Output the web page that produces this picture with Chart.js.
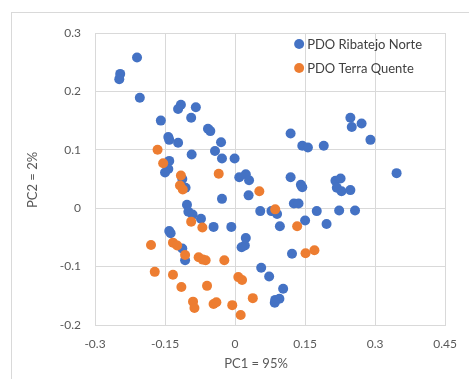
<!DOCTYPE html>
<html>
<head>
<meta charset="utf-8">
<script src="https://cdn.jsdelivr.net/npm/chart.js@4/dist/chart.umd.min.js"></script>
<style>
  html, body { margin: 0; padding: 0; background: #ffffff; }
  #wrap { position: relative; width: 469px; height: 379px; overflow: hidden; }
  #frame { position: absolute; left: 11px; top: 12px; width: 480px; height: 400px;
           border-left: 1px solid #d9d9d9; border-top: 1px solid #d9d9d9; }
  canvas { position: absolute; left: 0; top: 0; }
</style>
</head>
<body>
<div id="wrap">
  <div id="frame"></div>
  <canvas id="c" width="469" height="379"></canvas>
</div>
<script>
const seriesNames = ["PDO Ribatejo Norte", "PDO Terra Quente"];
const seriesColors = ["#4472C4", "#ED7D31"];

const ribatejoX = [-0.210,-0.246,-0.248,-0.204,-0.159,-0.116,-0.122,-0.084,-0.094,-0.058,
  -0.053,-0.143,-0.141,-0.122,-0.030,-0.043,-0.093,-0.028,-0.001,-0.141,
  -0.143,-0.150,0.009,0.023,0.030,-0.113,-0.106,-0.028,0.029,-0.103,
  -0.100,-0.091,-0.073,-0.046,-0.008,-0.141,-0.138,-0.113,-0.107,0.023,
  0.021,0.014,0.054,0.078,0.090,0.119,0.141,0.144,0.215,0.226,
  0.218,0.228,0.247,0.346,0.119,0.144,0.156,0.190,0.247,0.250,
  0.271,0.290,0.096,0.126,0.136,0.175,0.223,0.257,0.150,0.196,
  0.122,0.056,0.073,0.103,0.086,0.095,0.085];
const ribatejoY = [0.258,0.230,0.221,0.189,0.150,0.177,0.170,0.173,0.155,0.136,
  0.132,0.122,0.117,0.112,0.113,0.098,0.092,0.085,0.085,0.081,
  0.067,0.061,0.053,0.058,0.048,0.050,0.035,0.016,0.022,0.006,
  -0.006,-0.011,-0.018,-0.032,-0.032,-0.039,-0.043,-0.069,-0.089,-0.051,
  -0.064,-0.067,-0.005,-0.005,-0.010,0.053,0.040,0.036,0.047,0.051,
  0.035,0.029,0.031,0.060,0.128,0.107,0.104,0.107,0.155,0.139,
  0.145,0.117,-0.031,0.008,0.008,-0.005,-0.004,-0.004,-0.021,-0.027,
  -0.078,-0.102,-0.117,-0.138,-0.157,-0.155,-0.162];

const terraX = [-0.166,-0.154,-0.116,-0.035,-0.118,-0.112,0.052,0.086,0.133,0.151,
  0.170,-0.094,-0.070,-0.180,-0.133,-0.124,-0.107,-0.078,-0.069,-0.063,
  -0.023,0.007,0.015,0.038,-0.006,0.012,-0.172,-0.133,-0.115,-0.060,
  -0.090,-0.087,-0.046,-0.040];
const terraY = [0.100,0.077,0.056,0.059,0.039,0.032,0.029,-0.002,-0.031,-0.077,
  -0.072,-0.023,-0.033,-0.063,-0.059,-0.064,-0.080,-0.084,-0.088,-0.089,
  -0.089,-0.118,-0.123,-0.154,-0.166,-0.183,-0.109,-0.114,-0.135,-0.133,
  -0.160,-0.171,-0.164,-0.161];

const xTickValues = [-0.3, -0.15, 0, 0.15, 0.3, 0.45];
const xTickLabels = ["-0.3", "-0.15", "0", "0.15", "0.3", "0.45"];
const yTickValues = [-0.2, -0.1, 0, 0.1, 0.2, 0.3];
const yTickLabels = ["-0.2", "-0.1", "0", "0.1", "0.2", "0.3"];
const xAxisTitle = "PC1 = 95%";
const yAxisTitle = "PC2 = 2%";

function pts(xs, ys) { return xs.map((x, i) => ({ x: x, y: ys[i] })); }
function labelFor(values, labels, v) {
  for (let i = 0; i < values.length; i++) if (Math.abs(values[i] - v) < 1e-6) return labels[i];
  return "";
}

const FONT = "Lato, 'Open Sans', sans-serif";
const TEXT = "#595959";

const customText = {
  id: "customText",
  afterDraw(chart) {
    const ctx = chart.ctx;
    const ca = chart.chartArea;
    ctx.save();
    // legend (inside plot, transparent)
    ctx.font = "13px " + FONT;
    ctx.textBaseline = "middle";
    ctx.textAlign = "left";
    chart.data.datasets.forEach((ds, i) => {
      const cx = ca.right - 146, cy = ca.top + 11 + i * 24;
      ctx.fillStyle = ds.backgroundColor;
      ctx.beginPath(); ctx.arc(cx, cy, 5, 0, Math.PI * 2); ctx.fill();
      ctx.fillStyle = "#404040";
      ctx.fillText(ds.label, cx + 8, cy + 1);
    });
    // axis titles
    ctx.fillStyle = TEXT;
    ctx.font = "13px " + FONT;
    ctx.textAlign = "center";
    ctx.fillText(xAxisTitle, 256, 364);
    ctx.translate(33, 180);
    ctx.rotate(-Math.PI / 2);
    ctx.fillText(yAxisTitle, 0, 0);
    ctx.restore();
  }
};

new Chart(document.getElementById("c"), {
  type: "scatter",
  data: {
    datasets: [
      { label: seriesNames[0], data: pts(ribatejoX, ribatejoY), backgroundColor: seriesColors[0],
        borderColor: seriesColors[0], pointRadius: 5, pointBorderWidth: 0, order: 1 },
      { label: seriesNames[1], data: pts(terraX, terraY), backgroundColor: seriesColors[1],
        borderColor: seriesColors[1], pointRadius: 5, pointBorderWidth: 0, order: 0 }
    ]
  },
  options: {
    responsive: false,
    animation: false,
    events: [],
    layout: { padding: { left: 0, top: 33, right: 20, bottom: 0 } },
    plugins: { legend: { display: false }, tooltip: { enabled: false } },
    scales: {
      x: {
        type: "linear", min: -0.3, max: 0.45,
        afterBuildTicks: (s) => { s.ticks = xTickValues.map(v => ({ value: v })); },
        afterFit: (s) => { s.height = 54; },
        grid: { color: "#d9d9d9", drawTicks: false, lineWidth: 1 },
        border: { color: "#d9d9d9" },
        ticks: { padding: 12, color: TEXT, font: { family: FONT, size: 12 },
                 maxRotation: 0, callback: (v) => labelFor(xTickValues, xTickLabels, v) }
      },
      y: {
        type: "linear", min: -0.2, max: 0.3,
        afterBuildTicks: (s) => { s.ticks = yTickValues.map(v => ({ value: v })); },
        afterFit: (s) => { s.width = 95; },
        grid: { color: "#d9d9d9", drawTicks: false, lineWidth: 1 },
        border: { color: "#d9d9d9" },
        ticks: { padding: 14, color: TEXT, font: { family: FONT, size: 12 },
                 callback: (v) => labelFor(yTickValues, yTickLabels, v) }
      }
    }
  },
  plugins: [customText]
});
</script>
</body>
</html>
